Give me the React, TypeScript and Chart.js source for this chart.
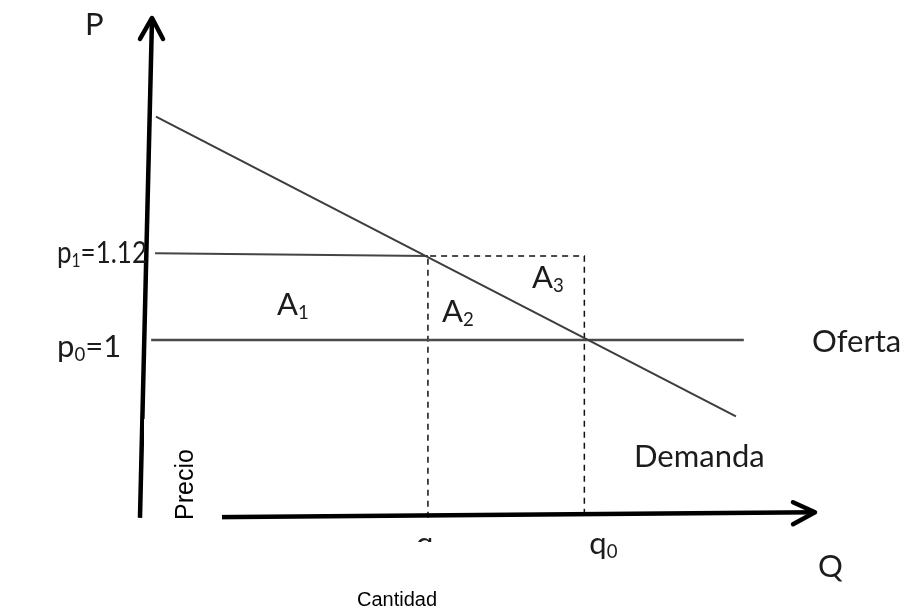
import React, { useEffect, useRef } from "react";
import { Chart, registerables } from "chart.js";

Chart.register(...registerables);

// ---- data (Q in arbitrary units, P in price units) ----
const P0 = 1;
const P1 = 1.12;
const Q1 = 6.44;
const Q0 = 10;
const P_ORIGIN = 0.746;

const demandQ = [0.25, 13.45];
const demandP = [1.319, 0.891];
const supplyQ = [0.14, 13.63];
const supplyP = [P0, P0];
const p1LineQ = [0.23, Q1];
const p1LineP = [1.124, P1];
const dashedQ = [Q1, Q1, Q0, Q0];
const dashedP = [P_ORIGIN, P1, P1, P_ORIGIN];
const yAxisQ = [-0.114, 0.16];
const yAxisP = [P_ORIGIN, 1.46];
const xAxisQ = [0, 15.25];
const xAxisP = [P_ORIGIN, 0.754];

const zip = (xs: number[], ys: number[]) => xs.map((x, i) => ({ x, y: ys[i] }));

const TEXT = "#1c1c1c";
const FONT = "Lato";

function drawSubText(
  ctx: CanvasRenderingContext2D,
  parts: [string, boolean][],
  x: number,
  y: number,
  size: number,
  fitWidth?: number
) {
  let total = 0;
  for (const [t, sub] of parts) {
    ctx.font = `${sub ? size * 0.6 : size}px ${FONT}`;
    total += ctx.measureText(t).width;
  }
  const sx = fitWidth ? fitWidth / total : 1;
  ctx.save();
  ctx.translate(x, y);
  ctx.scale(sx, 1);
  let cx = 0;
  for (const [t, sub] of parts) {
    const s = sub ? size * 0.6 : size;
    ctx.font = `${s}px ${FONT}`;
    ctx.fillText(t, cx, sub ? size * 0.14 : 0);
    cx += ctx.measureText(t).width;
  }
  ctx.restore();
}

const diagramPlugin = {
  id: "diagram",
  beforeDraw(chart: any) {
    const { ctx, width, height } = chart;
    ctx.save();
    ctx.fillStyle = "#ffffff";
    ctx.fillRect(0, 0, width, height);
    ctx.restore();
  },
  afterDatasetsDraw(chart: any) {
    const ctx: CanvasRenderingContext2D = chart.ctx;
    const xs = chart.scales.x;
    const ys = chart.scales.y;
    ctx.save();
    // arrow heads
    ctx.strokeStyle = "#000";
    ctx.lineWidth = 4.5;
    ctx.lineCap = "round";
    ctx.lineJoin = "round";
    const yt = { x: xs.getPixelForValue(yAxisQ[1]), y: ys.getPixelForValue(yAxisP[1]) };
    ctx.beginPath();
    ctx.moveTo(yt.x - 12, yt.y + 21);
    ctx.lineTo(yt.x, yt.y);
    ctx.lineTo(yt.x + 11, yt.y + 21);
    ctx.stroke();
    const xt = { x: xs.getPixelForValue(xAxisQ[1]), y: ys.getPixelForValue(xAxisP[1]) };
    ctx.beginPath();
    ctx.moveTo(xt.x - 22, xt.y - 10);
    ctx.lineTo(xt.x, xt.y);
    ctx.lineTo(xt.x - 22, xt.y + 12);
    ctx.stroke();

    // white box behind "Precio"
    ctx.fillStyle = "#ffffff";
    ctx.fillRect(144, 419, 78, 102);

    // labels
    ctx.fillStyle = TEXT;
    ctx.textBaseline = "alphabetic";
    ctx.textAlign = "left";
    const S = 31;
    drawSubText(ctx, [["P", false]], 85, 35, S);
    drawSubText(ctx, [["p", false], ["1", true], ["=1.12", false]], 57, ys.getPixelForValue(P1) + 7, S, 90);
    drawSubText(ctx, [["p", false], ["0", true], ["=1", false]], 57, ys.getPixelForValue(P0) + 17, S);
    drawSubText(ctx, [["A", false], ["1", true]], 277, 315, S);
    drawSubText(ctx, [["A", false], ["2", true]], 442, 322, S);
    drawSubText(ctx, [["A", false], ["3", true]], 532, 288, S);
    drawSubText(ctx, [["Oferta", false]], 812, 352, S);
    drawSubText(ctx, [["Demanda", false]], 634, 467, S);
    drawSubText(ctx, [["Q", false]], 818, 577, S);
    drawSubText(ctx, [["q", false], ["0", true]], xs.getPixelForValue(Q0) + 5, 554, S);
    // q1 label, mostly hidden under the axis title
    ctx.save();
    ctx.beginPath();
    ctx.rect(0, 0, 902, 542);
    ctx.clip();
    drawSubText(ctx, [["q", false], ["1", true]], xs.getPixelForValue(Q1) - 12, 554, S);
    ctx.restore();

    // axis titles
    ctx.fillStyle = "#000";
    ctx.font = `20px "Liberation Sans", Arial, sans-serif`;
    ctx.textAlign = "center";
    ctx.fillText("Cantidad", 397, 606);
    ctx.save();
    ctx.translate(193, 520);
    ctx.rotate(-Math.PI / 2);
    ctx.textAlign = "left";
    ctx.font = `25px "Liberation Sans", Arial, sans-serif`;
    ctx.fillText("Precio", 0, 0);
    ctx.restore();
    ctx.restore();
  },
};

export default function App() {
  const ref = useRef<HTMLCanvasElement | null>(null);
  useEffect(() => {
    if (!ref.current) return;
    const line = (data: any, color: string, w: number, dash: number[] = []) => ({
      data,
      showLine: true,
      borderColor: color,
      borderWidth: w,
      borderDash: dash,
      pointRadius: 0,
      fill: false,
      clip: false,
    });
    const chart = new Chart(ref.current, {
      type: "scatter",
      data: {
        datasets: [
          line(zip(yAxisQ, yAxisP), "#000", 4.5),
          line(zip(xAxisQ, xAxisP), "#000", 4.5),
          line(zip(demandQ, demandP), "#3c3c3c", 2),
          line(zip(supplyQ, supplyP), "#4a4a4a", 2.5),
          line(zip(p1LineQ, p1LineP), "#444", 2),
          line(zip(dashedQ, dashedP), "#111", 1.5, [6, 5]),
        ] as any,
      },
      options: {
        responsive: false,
        animation: false,
        layout: { padding: 0 },
        scales: {
          x: { type: "linear", min: -3.3, max: 17.23, display: false },
          y: { type: "linear", min: 0.6129, max: 1.4857, display: false },
        },
        plugins: { legend: { display: false }, tooltip: { enabled: false } },
        events: [],
      },
      plugins: [diagramPlugin],
    });
    return () => chart.destroy();
  }, []);
  return (
    <div style={{ position: "absolute", left: 0, top: 0, width: 902, height: 611 }}>
      <canvas ref={ref} width={902} height={611} style={{ display: "block" }} />
    </div>
  );
}
